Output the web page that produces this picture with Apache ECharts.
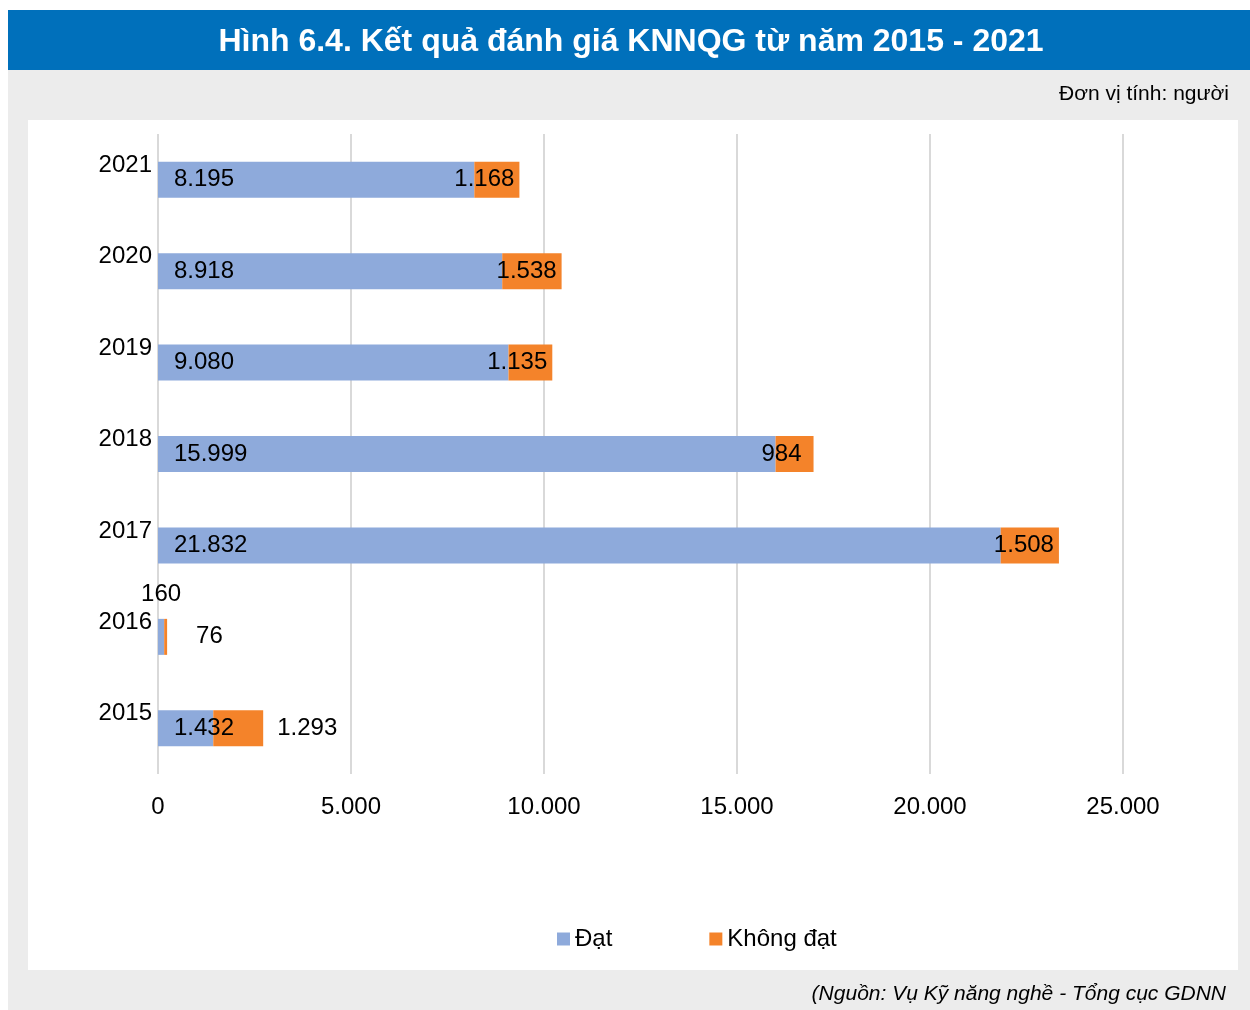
<!DOCTYPE html>
<html>
<head>
<meta charset="utf-8">
<script src="https://cdn.jsdelivr.net/npm/echarts@6/dist/echarts.min.js"></script>
<style>
  html, body { margin: 0; padding: 0; background: #ffffff; }
  #chart { width: 1250px; height: 1010px; }
</style>
</head>
<body>
<div id="chart"></div>
<script>
// Kết quả đánh giá KNNQG, 2015 - 2021 (đơn vị: người)
const years = ['2015', '2016', '2017', '2018', '2019', '2020', '2021'];
const passed = [1432, 160, 21832, 15999, 9080, 8918, 8195];     // Đạt
const failed = [1293, 76, 1508, 984, 1135, 1538, 1168];         // Không đạt
const seriesNames = ['Đạt', 'Không đạt'];
const axisMax = 25000;
const axisStep = 5000;

const FONT = '"Liberation Sans", Arial, sans-serif';
const FS = 24;

function fmt(v) {
  return String(v).replace(/\B(?=(\d{3})+(?!\d))/g, '.');
}

const passedData = passed.map(function (v, i) {
  const item = { value: v };
  if (years[i] === '2016') {
    item.label = { position: 'top', distance: 12 };
  }
  return item;
});

const failedData = failed.map(function (v, i) {
  const item = { value: v };
  if (years[i] === '2016') {
    item.label = { position: 'right', distance: 29 };
  } else if (years[i] === '2015') {
    item.label = { position: 'right', distance: 14 };
  } else if (years[i] === '2018') {
    item.label = { distance: 12 };
  }
  return item;
});

const chart = echarts.init(document.getElementById('chart'), null, { renderer: 'canvas' });

chart.setOption({
  animation: false,
  textStyle: { fontFamily: FONT },
  graphic: [
    { type: 'rect', z: -10, shape: { x: 8, y: 10, width: 1242, height: 1000 }, style: { fill: '#ececec' } },
    { type: 'rect', z: -9, shape: { x: 8, y: 10, width: 1242, height: 60 }, style: { fill: '#0070bb' } },
    { type: 'rect', z: -9, shape: { x: 28, y: 120, width: 1210, height: 850 }, style: { fill: '#ffffff' } },
    {
      type: 'text', z: 10, x: 631, y: 42,
      style: {
        text: 'Hình 6.4. Kết quả đánh giá KNNQG từ năm 2015 - 2021',
        fill: '#ffffff', font: 'bold 32px ' + FONT,
        textAlign: 'center', textVerticalAlign: 'middle'
      }
    },
    {
      type: 'text', z: 10, x: 1229, y: 94,
      style: {
        text: 'Đơn vị tính: người', fill: '#000000', font: '21px ' + FONT,
        textAlign: 'right', textVerticalAlign: 'middle'
      }
    },
    {
      type: 'text', z: 10, x: 1226, y: 994,
      style: {
        text: '(Nguồn: Vụ Kỹ năng nghề - Tổng cục GDNN', fill: '#000000', font: 'italic 21px ' + FONT,
        textAlign: 'right', textVerticalAlign: 'middle'
      }
    }
  ],
  grid: { left: 158, right: 127, top: 134, bottom: 236, containLabel: false },
  legend: {
    data: seriesNames,
    left: 552, top: 922,
    itemWidth: 13, itemHeight: 13, itemGap: 97,
    icon: 'rect',
    textStyle: { fontSize: FS, color: '#000000', fontFamily: FONT }
  },
  xAxis: {
    type: 'value',
    min: 0, max: axisMax, interval: axisStep,
    axisLine: { show: false },
    axisTick: { show: false },
    axisLabel: {
      fontSize: FS, color: '#000000', margin: 21,
      formatter: function (v) { return fmt(v); }
    },
    splitLine: { show: true, lineStyle: { color: '#d9d9d9', width: 2 } }
  },
  yAxis: {
    type: 'category',
    data: years,
    axisLine: { show: false },
    axisTick: { show: false },
    axisLabel: {
      fontSize: FS, color: '#000000', margin: 6,
      verticalAlign: 'bottom', lineHeight: 29
    },
    splitLine: { show: false }
  },
  series: [
    {
      name: seriesNames[0], type: 'bar', stack: 'total', barWidth: 36,
      itemStyle: { color: '#8eaadb' },
      label: {
        show: true, position: 'insideLeft', distance: 16,
        fontSize: FS, color: '#000000', fontFamily: FONT,
        lineHeight: 24, padding: [3, 0, 0, 0],
        formatter: function (p) { return fmt(p.value); }
      },
      data: passedData
    },
    {
      name: seriesNames[1], type: 'bar', stack: 'total', barWidth: 36,
      itemStyle: { color: '#f4832a' },
      label: {
        show: true, position: 'insideRight', distance: 5,
        fontSize: FS, color: '#000000', fontFamily: FONT,
        lineHeight: 24, padding: [3, 0, 0, 0],
        formatter: function (p) { return fmt(p.value); }
      },
      data: failedData
    }
  ]
});
</script>
</body>
</html>
